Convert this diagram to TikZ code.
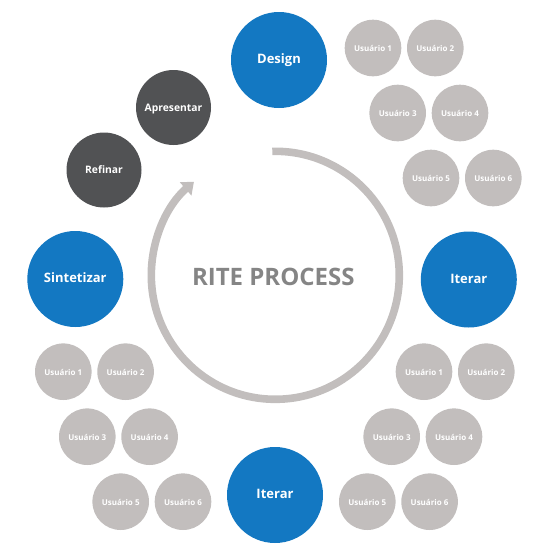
\documentclass[tikz,border=0pt]{standalone}
\usepackage{fontspec}
\setmainfont{Open Sans}
\usetikzlibrary{arrows.meta}
\definecolor{riteblue}{RGB}{19,120,194}
\definecolor{ritedark}{RGB}{81,82,84}
\definecolor{ritelight}{RGB}{194,190,189}
\definecolor{ritetext}{RGB}{133,133,133}
\newcommand{\Gap}{62.3}
\newcommand{\Row}{65}
\newcommand{\UserGroup}[5]{
	\node[usuario] (#1-1) at (#2,#5) {Usuário 1};
	\node[usuario] (#1-2) at (\fpeval{#2+\Gap},#5) {Usuário 2};
	\node[usuario] (#1-3) at (#3,\fpeval{#5+\Row}) {Usuário 3};
	\node[usuario] (#1-4) at (\fpeval{#3+\Gap},\fpeval{#5+\Row}) {Usuário 4};
	\node[usuario] (#1-5) at (#4,\fpeval{#5+2*\Row}) {Usuário 5};
	\node[usuario] (#1-6) at (\fpeval{#4+\Gap},\fpeval{#5+2*\Row}) {Usuário 6};
}
\begin{document}
\begin{tikzpicture}[x=1pt,y=-1pt,
		etapa/.style={circle,fill=riteblue,text=white,inner sep=0pt,minimum size=96pt,
			font=\bfseries\fontsize{13}{15}\selectfont,text height=0.71em,text depth=0pt},
		escuro/.style={etapa,fill=ritedark,minimum size=75pt,font=\bfseries\fontsize{10.3}{12}\selectfont},
		usuario/.style={circle,fill=ritelight,text=white,inner sep=0pt,minimum size=56.6pt,
			font=\bfseries\fontsize{8}{10}\selectfont,text height=0.71em,text depth=0pt}]
		\useasboundingbox (0,0) rectangle (550,550);
		% passos do ciclo
		\node[etapa] (design) at (279,60) {Design};
		\node[escuro] (apresentar) at (173.5,107.5) {Apresentar};
		\node[escuro] (refinar) at (104,170) {Refinar};
		\node[etapa] (sintetizar) at (75.3,279) {Sintetizar};
		\node[etapa] (iterarA) at (468.8,279.5) {Iterar};
		\node[etapa] (iterarB) at (275,495) {Iterar};
		% usuarios
		\UserGroup{topo}{373}{397.7}{431}{48}
		\UserGroup{dir}{424}{391.7}{367.3}{371.7}
		\UserGroup{esq}{63.3}{87.3}{120.7}{371.7}
		% seta circular
		\coordinate (c) at (275.3,275.3);
		\draw[ritelight,line width=7.6pt,-{Triangle[width=17pt,length=11pt]}]
			([shift={(-91.4:124)}]c) arc[start angle=-91.4,end angle=229,radius=124];
		\node[text=ritetext,font=\bfseries\fontsize{24}{28}\selectfont] (titulo) at (273.3,277) {RITE PROCESS};
	\end{tikzpicture}
\end{document}
